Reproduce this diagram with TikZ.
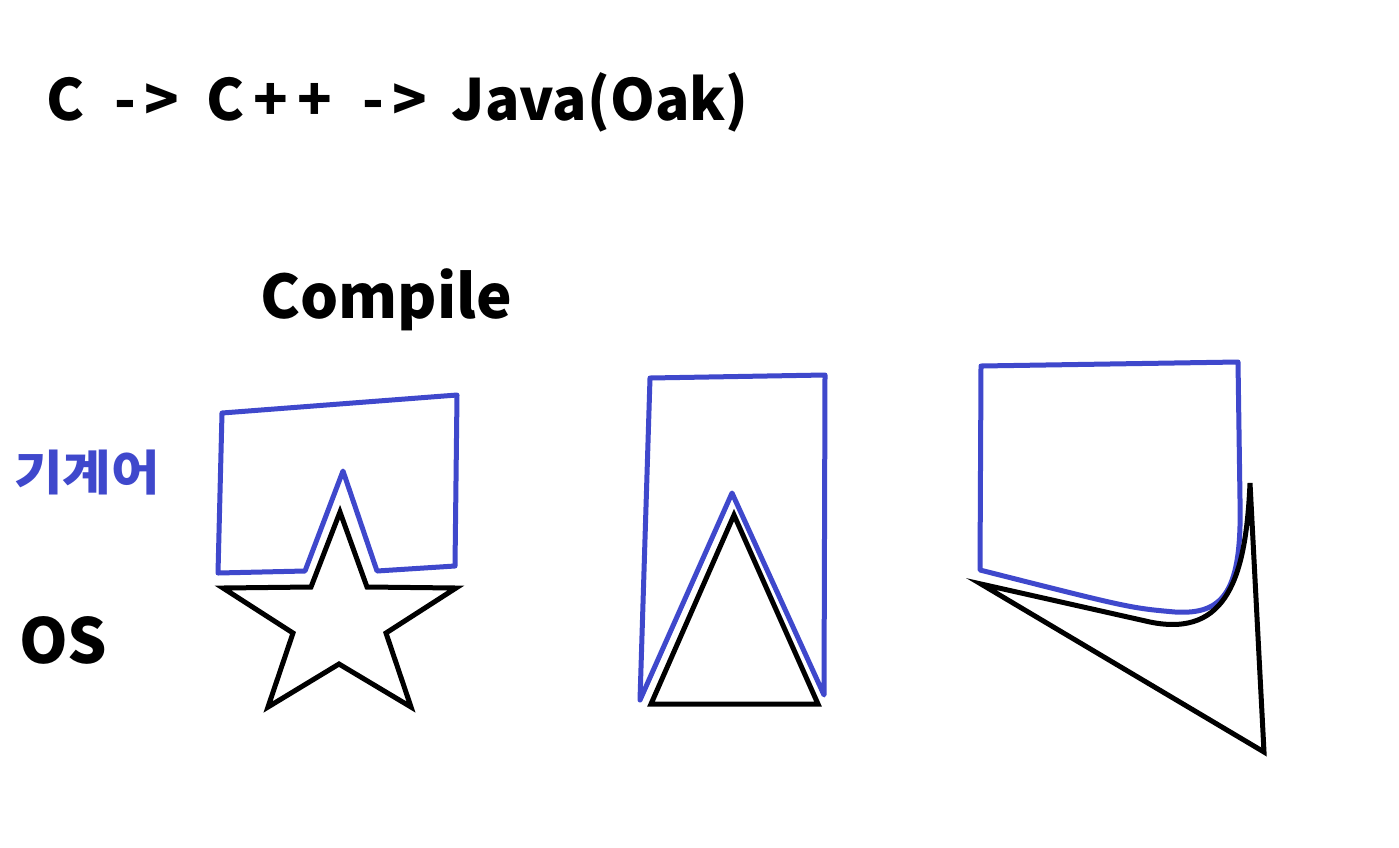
\documentclass[tikz,border=0pt]{standalone}
\usepackage{fontspec}
\newfontfamily\kr{Noto Sans CJK KR}
\definecolor{paintblue}{RGB}{63,72,204}
\begin{document}
\begin{tikzpicture}[x=1pt,y=-1pt,
  blueline/.style={draw=paintblue,line width=5pt,line join=round,line cap=round},
  blackline/.style={draw=black,line width=5pt,line join=miter},
  lbl/.style={inner sep=0pt,anchor=base west,font=\kr\bfseries}]
\fill[white] (0,0) rectangle (1399,847);
\useasboundingbox (0,0) rectangle (1399,847);
\node[lbl,font=\kr\bfseries\fontsize{57}{60}\selectfont] (title) at (46,120) {C\hspace{30pt}-\kern8pt>\hspace{28pt}C\kern9pt+\kern9pt+\hspace{30pt}-\kern8pt>\hspace{25pt}Java(Oak)};
\node[lbl,font=\kr\bfseries\fontsize{60}{66}\selectfont] (compile) at (260,318) {Compile};
\node[lbl,text=paintblue,font=\kr\bfseries\fontsize{48}{52}\selectfont,xscale=1.1] (mach) at (14,490) {기계어};
\node[lbl,font=\kr\bfseries\fontsize{62}{66}\selectfont] (os) at (19,663) {OS};
% shape 1
\draw[blueline] (218,573) -- (222,413) -- (457,395) -- (455,566) -- (377,571) -- (343,471) -- (305,571) -- cycle;
\draw[blackline] (340,512) -- (311,587) -- (223,588) -- (293,633) -- (268,707) -- (339,664) -- (411,707) -- (386,633) -- (456,588) -- (367,587) -- cycle;
% shape 2
\draw[blueline] (640,700) -- (650,378) -- (825,375) -- (824,695) -- (732,493) -- cycle;
\draw[blackline] (734,515) -- (651,704) -- (818,704) -- cycle;
% shape 3
\draw[blueline] (980,570) -- (981,366) -- (1238,362) -- (1240,500) .. controls (1242,590) and (1225,615) .. (1175,612) .. controls (1130,608) .. (980,570) -- cycle;
\draw[blackline] (981,584) -- (1150,622) .. controls (1228,638) and (1246,575) .. (1250,483) -- (1264,752) -- cycle;
\end{tikzpicture}
\end{document}
